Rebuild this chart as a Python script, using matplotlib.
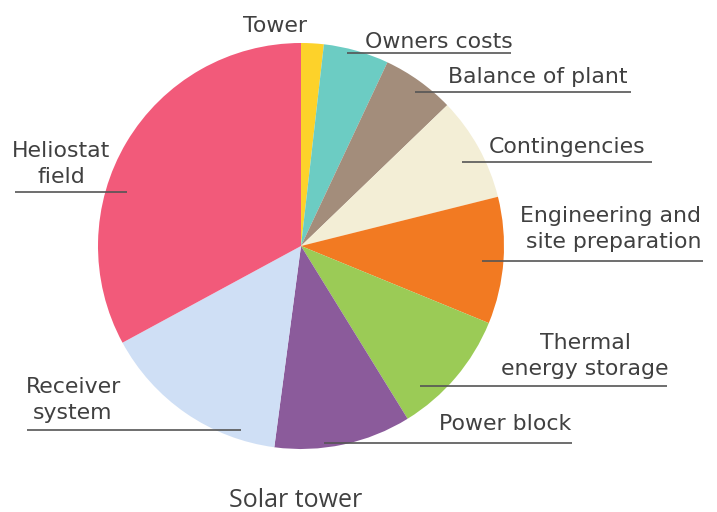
import matplotlib
matplotlib.use("Agg")
import matplotlib.pyplot as plt

# cost shares (%) of a solar tower plant, clockwise from 12 o'clock
components = ["Tower", "Owners costs", "Balance of plant", "Contingencies",
              "Engineering and\nsite preparation", "Thermal\nenergy storage",
              "Power block", "Receiver\nsystem", "Heliostat\nfield"]
shares = [1.8, 5.2, 5.8, 8.3, 10.1, 10.0, 10.9, 15.0, 32.9]
colors = ["#FDD22A", "#6CCCC3", "#A38D7B", "#F3EED6", "#F27A22",
          "#9BCB56", "#8B5B9B", "#CFDFF5", "#F25A7A"]

W, H = 717, 512
TEXT = "#404040"
LINE = "#555555"

fig = plt.figure(figsize=(W / 100, H / 100), dpi=100)
ax = fig.add_axes([0, 0, 1, 1])


def Y(y):
    # work in image-style coordinates (y grows downwards)
    return H - y


ax.pie(shares, colors=colors, startangle=90, counterclock=False,
       center=(301, Y(246)), radius=203,
       wedgeprops=dict(linewidth=0))

ax.set_xlim(0, W)
ax.set_ylim(0, H)
ax.set_aspect("equal")
ax.axis("off")

# label text: (anchor x, first baseline, alignment)
label_pos = [
    (243, 32, "left"),
    (365, 48, "left"),
    (448, 83, "left"),
    (489, 153, "left"),
    (701, 222, "right"),
    (585, 349, "center"),
    (439, 430, "left"),
    (73, 393, "center"),
    (61, 157, "center"),
]
# leader underlines: (y, x start, x end); the tower label has none
underlines = [
    None,
    (53, 347, 511),
    (92, 415, 631),
    (162, 462, 652),
    (261, 482, 703),
    (386, 420, 667),
    (443, 324, 572),
    (430, 27, 241),
    (192, 15, 127),
]

for name, (x, y, ha), ul in zip(components, label_pos, underlines):
    for i, part in enumerate(name.split("\n")):
        ax.text(x, Y(y + 26 * i), part, ha=ha, va="baseline",
                fontsize=15.8, color=TEXT, family="DejaVu Sans")
    if ul is not None:
        ly, x0, x1 = ul
        ax.plot([x0, x1], [Y(ly), Y(ly)], color=LINE, lw=1.2,
                solid_capstyle="butt")

ax.text(296, Y(507), "Solar tower", ha="center", va="baseline",
        fontsize=18, color=TEXT, family="Open Sans")

fig.savefig("out.png", dpi=100)
